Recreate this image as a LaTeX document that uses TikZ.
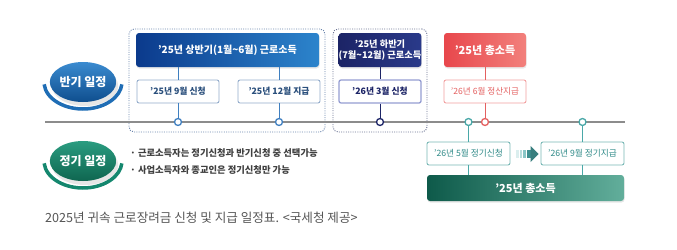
\documentclass[tikz,border=0pt]{standalone}
\usepackage{fontspec}
\setmainfont{Noto Sans CJK KR}
\usetikzlibrary{shapes.geometric,shadows}
\definecolor{tlgray}{HTML}{8C8C8C}
\definecolor{bdark}{HTML}{0B3A8C}
\definecolor{blight}{HTML}{2C84CC}
\definecolor{bline}{HTML}{3F7FC0}
\definecolor{bsub}{HTML}{93ACCB}
\definecolor{btext}{HTML}{2A4F7C}
\definecolor{navy}{HTML}{1C2466}
\definecolor{navyl}{HTML}{2A3A8A}
\definecolor{nsub}{HTML}{959DD2}
\definecolor{rdark}{HTML}{E8474C}
\definecolor{rlight}{HTML}{F2807C}
\definecolor{rsub}{HTML}{F2A0A0}
\definecolor{rtext}{HTML}{E46060}
\definecolor{teal}{HTML}{4AA8A8}
\definecolor{tsub}{HTML}{78B8B5}
\definecolor{ttext}{HTML}{2F8A88}
\definecolor{gdark}{HTML}{0E5A4A}
\definecolor{glight}{HTML}{62AE9B}
\definecolor{ell1top}{HTML}{3A8BD0}
\definecolor{ell1bot}{HTML}{0F4E8E}
\definecolor{arc1}{HTML}{1F6DB5}
\definecolor{ell2top}{HTML}{2A9C80}
\definecolor{ell2bot}{HTML}{0F6650}
\definecolor{arc2}{HTML}{14876E}
\definecolor{dot1}{HTML}{6A84AC}
\definecolor{dot2}{HTML}{6C7494}
\definecolor{capgray}{HTML}{555555}
\begin{document}
\begin{tikzpicture}[x=1pt,y=-1pt,
  hdr/.style={rounded corners=3pt, minimum width=82pt, minimum height=34pt, inner sep=0pt,
    text=white, font=\bfseries\fontsize{10}{12}\selectfont, align=center,
    drop shadow={opacity=0.18, shadow xshift=0.5pt, shadow yshift=-1.5pt}},
  subbox/.style={draw, fill=white, rounded corners=2pt, line width=0.9pt, minimum width=82pt,
    minimum height=23pt, inner sep=0pt, font=\bfseries\fontsize{8.8}{10}\selectfont},
  tdot/.style={circle, draw, fill=white, line width=1.3pt, minimum size=7pt, inner sep=0pt},
  conn/.style={line width=1pt},
  dotbox/.style={rounded corners=5pt, line width=0.9pt, dash pattern=on 1pt off 1.3pt},
  label/.style={ellipse, minimum width=63pt, minimum height=40pt, inner sep=0pt, text=white,
    font=\bfseries\fontsize{12}{14}\selectfont,
    drop shadow={opacity=0.2, shadow xshift=2pt, shadow yshift=-4pt}},
  note/.style={anchor=west, text=black!75, font=\bfseries\fontsize{9.3}{11}\selectfont, inner sep=0pt},
]
\useasboundingbox (0,0) rectangle (677,249);

% dotted groups
\node[dotbox, draw=dot1, minimum width=196pt, minimum height=103pt] (g1) at (227,80.5) {};
\node[dotbox, draw=dot2, minimum width=94pt, minimum height=103pt] (g2) at (380,80.5) {};

% timeline
\coordinate (tl0) at (45,122);
\coordinate (tl1) at (625,122);
\draw[tlgray, line width=1.3pt] (tl0) -- (tl1);

% round labels
\node[label, top color=ell1top, bottom color=ell1bot] (L1) at (83,82) {반기 일정};
\draw[arc1, line width=3.5pt] ([shift={(185:39pt and 27pt)}]L1.center) arc[start angle=185, end angle=355, x radius=39pt, y radius=27pt];
\node[label, top color=ell2top, bottom color=ell2bot] (L2) at (83,161) {정기 일정};
\draw[arc2, line width=3.5pt] ([shift={(185:39pt and 27pt)}]L2.center) arc[start angle=185, end angle=355, x radius=39pt, y radius=27pt];

% circles on the timeline
\node[tdot, draw=bline] (c1) at (178,122) {};
\node[tdot, draw=bline] (c2) at (279,122) {};
\node[tdot, draw=navy] (c3) at (380,122) {};
\node[tdot, draw=teal] (c4) at (468.5,122) {};
\node[tdot, draw=rtext] (c5) at (485,122) {};
\node[tdot, draw=teal] (c6) at (582.5,122) {};

% half-year (first half)
\node[hdr, minimum width=183pt, left color=bdark, right color=blight] (h1) at (227.5,50) {'25년 상반기(1월\textasciitilde 6월) 근로소득};
\node[subbox, draw=bsub, text=btext] (s1) at (178,91.5) {'25년 9월 신청};
\node[subbox, draw=bsub, text=btext] (s2) at (279,91.5) {'25년 12월 지급};
\draw[conn, bline] (c1 |- h1.south) -- (s1.north);
\draw[conn, bline] (c2 |- h1.south) -- (s2.north);
\draw[conn, bline] (s1.south) -- (c1.north);
\draw[conn, bline] (s2.south) -- (c2.north);

% half-year (second half)
\node[hdr, left color=navy, right color=navyl, font=\bfseries\fontsize{9.2}{10.8}\selectfont] (h2) at (380,50) {'25년 하반기\\(7월\textasciitilde 12월) 근로소득};
\node[subbox, draw=nsub, line width=1.3pt, text=navy] (s3) at (380,91.5) {'26년 3월 신청};
\draw[conn, navy] (h2.south) -- (s3.north);
\draw[conn, navy] (s3.south) -- (c3.north);

% total income settlement
\node[hdr, left color=rdark, right color=rlight, font=\bfseries\fontsize{11}{13}\selectfont] (h3) at (485,50) {'25년 총소득};
\node[subbox, draw=rsub, text=rtext, font=\fontsize{8.6}{10}\selectfont] (s4) at (485,91.5) {'26년 6월 정산지급};
\draw[conn, rtext] (h3.south) -- (s4.north);
\draw[conn, rtext] (s4.south) -- (c5.north);

% regular schedule
\node[subbox, draw=tsub, text=ttext, minimum width=83pt, font=\fontsize{8.7}{10}\selectfont] (p1) at (468.5,153.5) {'26년 5월 정기신청};
\node[subbox, draw=tsub, text=ttext, minimum width=83pt, font=\fontsize{8.7}{10}\selectfont] (p2) at (582.5,153.5) {'26년 9월 정기지급};
\node[rounded corners=3pt, minimum width=197pt, minimum height=26pt, inner sep=0pt,
  left color=gdark, right color=glight, text=white, font=\bfseries\fontsize{11}{13}\selectfont,
  drop shadow={opacity=0.2, shadow xshift=0.5pt, shadow yshift=-1.5pt}] (gb) at (525.5,188) {'25년 총소득};
\draw[conn, teal] (c4.south) -- (p1.north);
\draw[conn, teal] (c6.south) -- (p2.north);
\draw[conn, teal] (p1.south) -- (c4 |- gb.north);
\draw[conn, teal] (p2.south) -- (c6 |- gb.north);

% arrow between the regular boxes
\fill[teal!20] (516,150) rectangle (518.5,158);
\fill[teal!40] (519.5,150) rectangle (522,158);
\fill[teal!65] (523,150) rectangle (525.5,158);
\fill[teal!85!black] (526.5,150) rectangle (531,158);
\fill[teal!75!black] (530.5,146) -- (538.5,154) -- (530.5,162) -- cycle;

% notes
\node[note] (n1) at (130,153) {· 근로소득자는 정기신청과 반기신청 중 선택가능};
\node[note] (n2) at (130,170) {· 사업소득자와 종교인은 정기신청만 가능};

% caption
\node[anchor=west, inner sep=0pt, text=capgray, font=\fontsize{12.6}{14}\selectfont] (cap) at (45,218) {2025년 귀속 근로장려금 신청 및 지급 일정표. <국세청 제공>};
\end{tikzpicture}
\end{document}
